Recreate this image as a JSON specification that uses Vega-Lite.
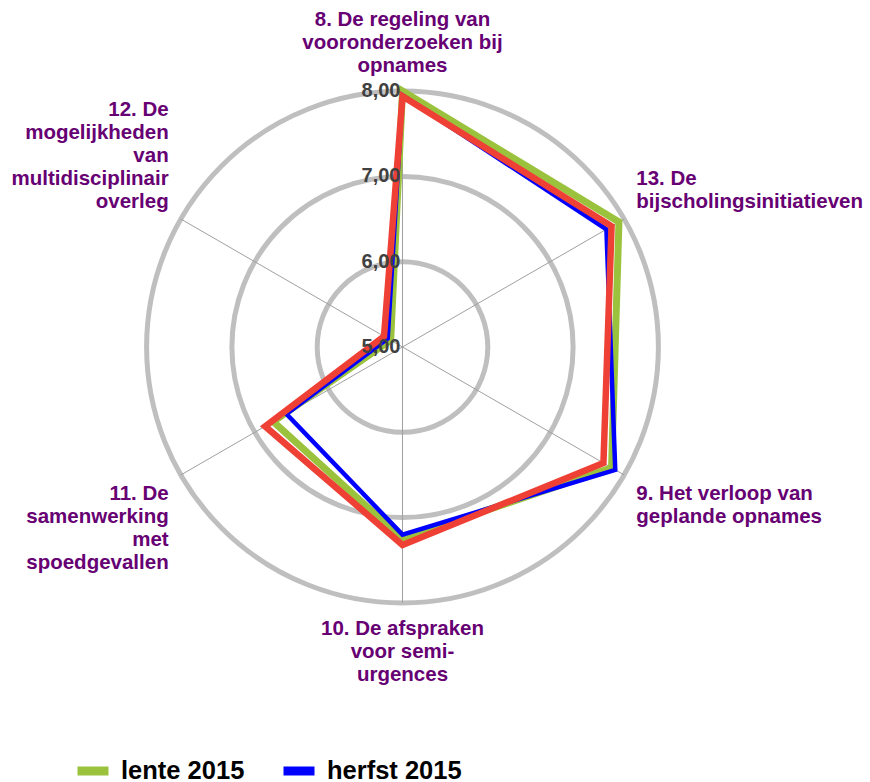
{
  "$schema": "https://vega.github.io/schema/vega-lite/v6.json",
  "width": 870,
  "height": 782,
  "autosize": {"type": "none"},
  "padding": 0,
  "background": "white",
  "config": {"view": {"stroke": null}, "font": "Liberation Sans"},
  "datasets": {
    "series": [
      {"series": "lente 2015", "idx": 0, "value": 8.00},
      {"series": "lente 2015", "idx": 1, "value": 7.93},
      {"series": "lente 2015", "idx": 2, "value": 7.83},
      {"series": "lente 2015", "idx": 3, "value": 7.25},
      {"series": "lente 2015", "idx": 4, "value": 6.75},
      {"series": "lente 2015", "idx": 5, "value": 5.16},
      {"series": "herfst 2015", "idx": 0, "value": 7.95},
      {"series": "herfst 2015", "idx": 1, "value": 7.76},
      {"series": "herfst 2015", "idx": 2, "value": 7.88},
      {"series": "herfst 2015", "idx": 3, "value": 7.20},
      {"series": "herfst 2015", "idx": 4, "value": 6.57},
      {"series": "herfst 2015", "idx": 5, "value": 5.20},
      {"series": "lente 2016", "idx": 0, "value": 7.94},
      {"series": "lente 2016", "idx": 1, "value": 7.83},
      {"series": "lente 2016", "idx": 2, "value": 7.72},
      {"series": "lente 2016", "idx": 3, "value": 7.32},
      {"series": "lente 2016", "idx": 4, "value": 6.86},
      {"series": "lente 2016", "idx": 5, "value": 5.25}
    ],
    "axes": [
      {"idx": 0, "label": "8. De regeling van\nvooronderzoeken bij\nopnames"},
      {"idx": 1, "label": "13. De\nbijscholingsinitiatieven"},
      {"idx": 2, "label": "9. Het verloop van\ngeplande opnames"},
      {"idx": 3, "label": "10. De afspraken\nvoor semi-\nurgences"},
      {"idx": 4, "label": "11. De\nsamenwerking\nmet\nspoedgevallen"},
      {"idx": 5, "label": "12. De\nmogelijkheden\nvan\nmultidisciplinair\noverleg"}
    ],
    "rings": [
      {"value": 6},
      {"value": 7},
      {"value": 8}
    ],
    "ticks": [
      {"value": 5, "label": "5,00"},
      {"value": 6, "label": "6,00"},
      {"value": 7, "label": "7,00"},
      {"value": 8, "label": "8,00"}
    ]
  },
  "layer": [
    {
      "data": {"name": "rings"},
      "transform": [
        {"calculate": "datum.value - 5", "as": "r"},
        {"calculate": "0", "as": "cx"},
        {"calculate": "0", "as": "cy"}
      ],
      "mark": {"type": "point", "shape": "circle", "filled": false, "stroke": "#BFBFBF", "strokeWidth": 5, "opacity": 1},
      "encoding": {
        "x": {"field": "cx", "type": "quantitative", "scale": {"domain": [-4.7186, 5.4807], "nice": false, "zero": false}, "axis": null},
        "y": {"field": "cy", "type": "quantitative", "scale": {"domain": [-5.0996, 4.0680], "nice": false, "zero": false}, "axis": null},
        "size": {"field": "r", "type": "quantitative", "scale": {"type": "pow", "exponent": 2, "domain": [0, 3], "range": [0, 261939]}, "legend": null}
      }
    },
    {
      "data": {"name": "axes"},
      "transform": [
        {"calculate": "0", "as": "cx"},
        {"calculate": "0", "as": "cy"},
        {"calculate": "3 * sin(datum.idx * PI / 3)", "as": "ex"},
        {"calculate": "3 * cos(datum.idx * PI / 3)", "as": "ey"}
      ],
      "mark": {"type": "rule", "color": "#A0A0A0", "strokeWidth": 1},
      "encoding": {
        "x": {"field": "cx", "type": "quantitative", "axis": null},
        "y": {"field": "cy", "type": "quantitative", "axis": null},
        "x2": {"field": "ex"},
        "y2": {"field": "ey"}
      }
    },
    {
      "data": {"name": "series"},
      "transform": [
        {"filter": "datum.series == 'lente 2015'"},
        {"calculate": "(datum.value - 5) * sin(datum.idx * PI / 3)", "as": "x"},
        {"calculate": "(datum.value - 5) * cos(datum.idx * PI / 3)", "as": "y"}
      ],
      "mark": {"type": "line", "interpolate": "linear-closed", "strokeJoin": "miter", "strokeWidth": 7},
      "encoding": {
        "x": {"field": "x", "type": "quantitative", "axis": null},
        "y": {"field": "y", "type": "quantitative", "axis": null},
        "order": {"field": "idx", "type": "quantitative"},
        "color": {
          "field": "series", "type": "nominal",
          "scale": {"domain": ["lente 2015", "herfst 2015", "lente 2016"], "range": ["#9BC23C", "#0000FF", "#EE4035"]},
          "legend": {
            "orient": "none", "legendX": 73, "legendY": 751, "direction": "horizontal", "title": null,
            "values": ["lente 2015", "herfst 2015"],
            "symbolType": "stroke", "symbolSize": 961, "symbolStrokeWidth": 9,
            "labelFontSize": 25.5, "labelFont": "Liberation Sans", "labelFontWeight": "bold", "labelColor": "#000000",
            "labelOffset": 8, "columnPadding": 20, "labelLimit": 300
          }
        }
      }
    },
    {
      "data": {"name": "series"},
      "transform": [
        {"filter": "datum.series == 'herfst 2015'"},
        {"calculate": "(datum.value - 5) * sin(datum.idx * PI / 3)", "as": "x"},
        {"calculate": "(datum.value - 5) * cos(datum.idx * PI / 3)", "as": "y"}
      ],
      "mark": {"type": "line", "interpolate": "linear-closed", "strokeJoin": "miter", "strokeWidth": 4.5},
      "encoding": {
        "x": {"field": "x", "type": "quantitative", "axis": null},
        "y": {"field": "y", "type": "quantitative", "axis": null},
        "order": {"field": "idx", "type": "quantitative"},
        "color": {"field": "series", "type": "nominal"}
      }
    },
    {
      "data": {"name": "series"},
      "transform": [
        {"filter": "datum.series == 'lente 2016'"},
        {"calculate": "(datum.value - 5) * sin(datum.idx * PI / 3)", "as": "x"},
        {"calculate": "(datum.value - 5) * cos(datum.idx * PI / 3)", "as": "y"}
      ],
      "mark": {"type": "line", "interpolate": "linear-closed", "strokeJoin": "miter", "strokeWidth": 6.5},
      "encoding": {
        "x": {"field": "x", "type": "quantitative", "axis": null},
        "y": {"field": "y", "type": "quantitative", "axis": null},
        "order": {"field": "idx", "type": "quantitative"},
        "color": {"field": "series", "type": "nominal"}
      }
    },
    {
      "data": {"name": "ticks"},
      "transform": [
        {"calculate": "datum.value - 5", "as": "ty"},
        {"calculate": "0", "as": "tx"}
      ],
      "mark": {"type": "text", "align": "right", "baseline": "middle", "dx": -2, "fontSize": 20, "fontWeight": "bold", "color": "#404040"},
      "encoding": {
        "x": {"field": "tx", "type": "quantitative"},
        "y": {"field": "ty", "type": "quantitative"},
        "text": {"field": "label", "type": "nominal"}
      }
    },
    {
      "data": {"name": "axes"},
      "transform": [
        {"filter": "datum.idx == 0"},
        {"calculate": "3.165 * sin(datum.idx * PI / 3)", "as": "lx"},
        {"calculate": "3.165 * cos(datum.idx * PI / 3)", "as": "ly"}
      ],
      "mark": {"type": "text", "align": "center", "baseline": "bottom", "dy": -47, "lineBreak": "\n", "lineHeight": 23, "fontSize": 20.5, "fontWeight": "bold", "color": "#660073"},
      "encoding": {"x": {"field": "lx", "type": "quantitative"}, "y": {"field": "ly", "type": "quantitative"}, "text": {"field": "label", "type": "nominal"}}
    },
    {
      "data": {"name": "axes"},
      "transform": [
        {"filter": "datum.idx == 1"},
        {"calculate": "3.165 * sin(datum.idx * PI / 3)", "as": "lx"},
        {"calculate": "3.165 * cos(datum.idx * PI / 3)", "as": "ly"}
      ],
      "mark": {"type": "text", "align": "left", "baseline": "bottom", "dy": -23, "lineBreak": "\n", "lineHeight": 23, "fontSize": 20.5, "fontWeight": "bold", "color": "#660073"},
      "encoding": {"x": {"field": "lx", "type": "quantitative"}, "y": {"field": "ly", "type": "quantitative"}, "text": {"field": "label", "type": "nominal"}}
    },
    {
      "data": {"name": "axes"},
      "transform": [
        {"filter": "datum.idx == 2"},
        {"calculate": "3.165 * sin(datum.idx * PI / 3)", "as": "lx"},
        {"calculate": "3.165 * cos(datum.idx * PI / 3)", "as": "ly"}
      ],
      "mark": {"type": "text", "align": "left", "baseline": "top", "dy": 2, "lineBreak": "\n", "lineHeight": 23, "fontSize": 20.5, "fontWeight": "bold", "color": "#660073"},
      "encoding": {"x": {"field": "lx", "type": "quantitative"}, "y": {"field": "ly", "type": "quantitative"}, "text": {"field": "label", "type": "nominal"}}
    },
    {
      "data": {"name": "axes"},
      "transform": [
        {"filter": "datum.idx == 3"},
        {"calculate": "3.165 * sin(datum.idx * PI / 3)", "as": "lx"},
        {"calculate": "3.165 * cos(datum.idx * PI / 3)", "as": "ly"}
      ],
      "mark": {"type": "text", "align": "center", "baseline": "top", "dy": 2, "lineBreak": "\n", "lineHeight": 23, "fontSize": 20.5, "fontWeight": "bold", "color": "#660073"},
      "encoding": {"x": {"field": "lx", "type": "quantitative"}, "y": {"field": "ly", "type": "quantitative"}, "text": {"field": "label", "type": "nominal"}}
    },
    {
      "data": {"name": "axes"},
      "transform": [
        {"filter": "datum.idx == 4"},
        {"calculate": "3.165 * sin(datum.idx * PI / 3)", "as": "lx"},
        {"calculate": "3.165 * cos(datum.idx * PI / 3)", "as": "ly"}
      ],
      "mark": {"type": "text", "align": "right", "baseline": "top", "dy": 2, "lineBreak": "\n", "lineHeight": 23, "fontSize": 20.5, "fontWeight": "bold", "color": "#660073"},
      "encoding": {"x": {"field": "lx", "type": "quantitative"}, "y": {"field": "ly", "type": "quantitative"}, "text": {"field": "label", "type": "nominal"}}
    },
    {
      "data": {"name": "axes"},
      "transform": [
        {"filter": "datum.idx == 5"},
        {"calculate": "3.165 * sin(datum.idx * PI / 3)", "as": "lx"},
        {"calculate": "3.165 * cos(datum.idx * PI / 3)", "as": "ly"}
      ],
      "mark": {"type": "text", "align": "right", "baseline": "bottom", "dy": -92, "lineBreak": "\n", "lineHeight": 23, "fontSize": 20.5, "fontWeight": "bold", "color": "#660073"},
      "encoding": {"x": {"field": "lx", "type": "quantitative"}, "y": {"field": "ly", "type": "quantitative"}, "text": {"field": "label", "type": "nominal"}}
    }
  ]
}
